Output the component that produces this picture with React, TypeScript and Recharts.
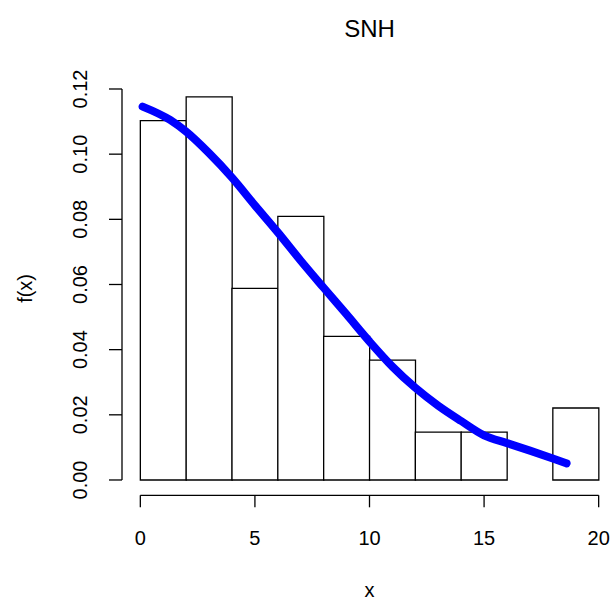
import React from 'react';
import { ComposedChart, Bar, Line, XAxis, YAxis, ReferenceLine } from 'recharts';

// histogram bins (width 2) and their densities
const binLabels = ['0-2', '2-4', '4-6', '6-8', '8-10', '10-12', '12-14', '14-16', '16-18', '18-20'];
const binDensity = [0.1103, 0.1176, 0.0588, 0.0809, 0.0441, 0.0368, 0.0147, 0.0147, 0, 0.0221];

// fitted density curve
const curveX = [0.1, 1.3, 2, 3, 4, 5, 6, 7, 8, 9, 10, 11, 12, 13, 14, 15, 16, 17, 18, 18.6];
const curveY = [0.1146, 0.1105, 0.1069, 0.1003, 0.0928, 0.0843, 0.076, 0.0673, 0.059, 0.0508, 0.0425, 0.0348, 0.0283, 0.0228, 0.0181, 0.0137, 0.0113, 0.009, 0.0066, 0.0051];

const xTicks = [0, 5, 10, 15, 20];
const yTicks = [0, 0.02, 0.04, 0.06, 0.08, 0.1, 0.12];

const W = 620;
const H = 600;
const LEFT = 122;
const RIGHT = 3;
const TOP = 81.5;
const BOTTOM_AXIS = 104.7;
// R-style 4% extension of the data range
const X_DOMAIN: [number, number] = [-0.8, 20.8];
const Y_DOMAIN: [number, number] = [-0.0047, 0.1223];
const PLOT_W = W - LEFT - RIGHT;
const PAD = (PLOT_W * 0.8) / (X_DOMAIN[1] - X_DOMAIN[0]);

const FONT = '"Liberation Sans", Arial, Helvetica, sans-serif';

const bins = binLabels.map((bin, i) => ({ bin, density: binDensity[i] }));
const curve = curveX.map((x, i) => ({ x, y: curveY[i] }));

const XTick = (props: any) => {
  const { x, y, payload } = props;
  return (
    <text x={x} y={y + 36} textAnchor="middle" fontSize={20} fontFamily={FONT} fill="#000">
      {payload.value}
    </text>
  );
};

const YTick = (props: any) => {
  const { x, y, payload } = props;
  const bx = x - 20;
  return (
    <text x={bx} y={y} transform={`rotate(-90 ${bx} ${y})`} textAnchor="middle" fontSize={20} fontFamily={FONT} fill="#000">
      {Number(payload.value).toFixed(2)}
    </text>
  );
};

export default function App() {
  const midX = LEFT + PAD + (PLOT_W - 2 * PAD) / 2;
  return (
    <div style={{ position: 'absolute', left: 0, top: 0, width: 613, height: 600, overflow: 'hidden', background: '#fff' }}>
      <ComposedChart width={W} height={H} data={bins} margin={{ top: TOP, right: RIGHT, left: 0, bottom: 0 }} barCategoryGap={0}>
        <XAxis
          xAxisId="num"
          dataKey="x"
          type="number"
          domain={X_DOMAIN}
          allowDataOverflow
          ticks={xTicks}
          height={BOTTOM_AXIS}
          axisLine={false}
          tickSize={12}
          tickLine={{ stroke: '#000', strokeWidth: 1.3 }}
          tick={<XTick />}
        />
        <XAxis xAxisId="bins" dataKey="bin" type="category" hide height={0} padding={{ left: PAD, right: PAD }} />
        <YAxis
          type="number"
          domain={Y_DOMAIN}
          allowDataOverflow
          ticks={yTicks}
          width={LEFT}
          axisLine={false}
          tickSize={13}
          tickLine={{ stroke: '#000', strokeWidth: 1.3 }}
          tick={<YTick />}
        />
        <Bar xAxisId="bins" dataKey="density" fill="#fff" stroke="#000" strokeWidth={1.3} isAnimationActive={false} />
        <Line
          xAxisId="num"
          data={curve}
          dataKey="y"
          type="monotone"
          stroke="#0000ff"
          strokeWidth={8}
          strokeLinecap="round"
          dot={false}
          isAnimationActive={false}
        />
        <ReferenceLine
          xAxisId="num"
          segment={[{ x: 0, y: Y_DOMAIN[0] }, { x: 20, y: Y_DOMAIN[0] }]}
          stroke="#000"
          strokeWidth={1.3}
          ifOverflow="visible"
        />
        <ReferenceLine
          xAxisId="num"
          segment={[{ x: X_DOMAIN[0], y: 0 }, { x: X_DOMAIN[0], y: 0.12 }]}
          stroke="#000"
          strokeWidth={1.3}
          ifOverflow="visible"
        />
      </ComposedChart>
      <svg width={613} height={600} style={{ position: 'absolute', left: 0, top: 0, pointerEvents: 'none' }}>
        <text x={midX} y={36.7} textAnchor="middle" fontSize={24} fontFamily={FONT} fill="#000">SNH</text>
        <text x={midX} y={597} textAnchor="middle" fontSize={20} fontFamily={FONT} fill="#000">x</text>
        <text x={31.7} y={288.4} transform="rotate(-90 31.7 288.4)" textAnchor="middle" fontSize={20} fontFamily={FONT} fill="#000">f(x)</text>
      </svg>
    </div>
  );
}
